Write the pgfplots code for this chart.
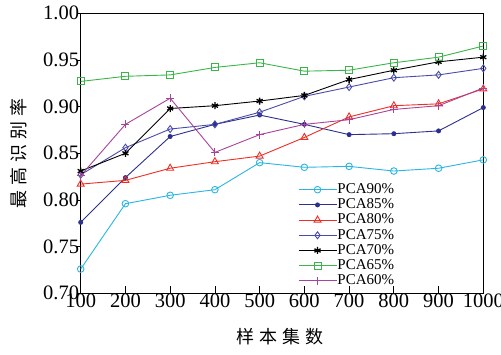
\documentclass[border=0pt]{standalone}
\usepackage{fontspec}
\setmainfont{Liberation Serif}
\newfontfamily\cjk{Noto Sans CJK SC}
\usepackage{pgfplots}
\pgfplotsset{compat=1.18}
\definecolor{c90}{RGB}{41,182,224}
\definecolor{c85}{RGB}{43,47,143}
\definecolor{c80}{RGB}{238,46,36}
\definecolor{c75}{RGB}{74,74,168}
\definecolor{c65}{RGB}{58,181,74}
\definecolor{c60}{RGB}{168,67,154}
\begin{document}
\begin{tikzpicture}
\begin{axis}[
  scale only axis, width=402.6bp, height=280bp,
  xmin=100, xmax=1000, ymin=0.70, ymax=1.00,
  xtick={100,200,...,1000}, ytick={0.70,0.75,...,1.00},
  yticklabel style={/pgf/number format/fixed, /pgf/number format/fixed zerofill, /pgf/number format/precision=2, inner sep=1.5bp},
  xticklabel style={/pgf/number format/1000 sep={}, inner sep=1bp, yshift=1bp},
  /pgf/number format/assume math mode=true,
  tick pos=left, tick align=inside,
  major tick length=7bp,
  ytick style={/pgfplots/major tick length=4bp, xshift=-4bp},
  tick label style={font=\fontsize{20.5bp}{22bp}\selectfont},
  axis line style={line width=0.9bp},
  tick style={line width=0.8bp, black},
  xlabel={\cjk 样\hspace{5bp}本\hspace{5bp}集\hspace{5bp}数},
  ylabel={\cjk 最\hspace{5bp}高\hspace{5bp}识\hspace{5bp}别\hspace{5bp}率},
  xlabel style={at={(axis description cs:0.495,0)}, anchor=center, yshift=-43.7bp, font=\fontsize{18bp}{20bp}\selectfont},
  ylabel style={at={(axis description cs:0,0.5)}, anchor=center, rotate=0, yshift=62.2bp, font=\fontsize{18bp}{20bp}\selectfont},
  legend style={at={(rel axis cs:0.532,0.405)}, anchor=north west, draw=none, fill=none,
    font=\fontsize{15bp}{15bp}\selectfont, row sep=0bp,
    nodes={inner sep=0.5bp, text height=11bp, text depth=3.2bp}},
  legend cell align=left,
  legend image code/.code={\draw[mark repeat=2,mark phase=2] plot coordinates {(0bp,0bp) (19bp,0bp) (38bp,0bp)};},
  every axis plot/.append style={line width=0.9bp},
]
\addplot[c90, mark=o, mark size=3.3bp] coordinates {
(100,0.726) (200,0.796) (300,0.805) (400,0.811) (500,0.840)
(600,0.835) (700,0.836) (800,0.831) (900,0.834) (1000,0.843)};
\addlegendentry{PCA90\%}
\addplot[c85, mark=*, mark size=2bp] coordinates {
(100,0.776) (200,0.824) (300,0.868) (400,0.881) (500,0.891)
(600,0.881) (700,0.870) (800,0.871) (900,0.874) (1000,0.899)};
\addlegendentry{PCA85\%}
\addplot[c80, mark=triangle, mark size=4bp] coordinates {
(100,0.817) (200,0.821) (300,0.834) (400,0.841) (500,0.847)
(600,0.867) (700,0.889) (800,0.901) (900,0.903) (1000,0.919)};
\addlegendentry{PCA80\%}
\addplot[c75, mark=diamond, mark size=3.5bp] coordinates {
(100,0.827) (200,0.856) (300,0.876) (400,0.881) (500,0.894)
(600,0.911) (700,0.921) (800,0.931) (900,0.934) (1000,0.941)};
\addlegendentry{PCA75\%}
\addplot[black, mark=asterisk, mark size=3.5bp, mark options={line width=1.3bp}] coordinates {
(100,0.831) (200,0.850) (300,0.898) (400,0.901) (500,0.906)
(600,0.912) (700,0.929) (800,0.939) (900,0.948) (1000,0.953)};
\addlegendentry{PCA70\%}
\addplot[c65, mark=square, mark size=3.5bp] coordinates {
(100,0.927) (200,0.9325) (300,0.934) (400,0.942) (500,0.947)
(600,0.938) (700,0.939) (800,0.947) (900,0.953) (1000,0.965)};
\addlegendentry{PCA65\%}
\addplot[c60, mark=+, mark size=4bp] coordinates {
(100,0.826) (200,0.881) (300,0.909) (400,0.851) (500,0.870)
(600,0.881) (700,0.886) (800,0.897) (900,0.901) (1000,0.920)};
\addlegendentry{PCA60\%}
\end{axis}
\pgfresetboundingbox
\path ([shift={(-80.7bp,-60.7bp)}]current axis.south west) rectangle ([shift={(17.7bp,13.3bp)}]current axis.north east);
\end{tikzpicture}
\end{document}
